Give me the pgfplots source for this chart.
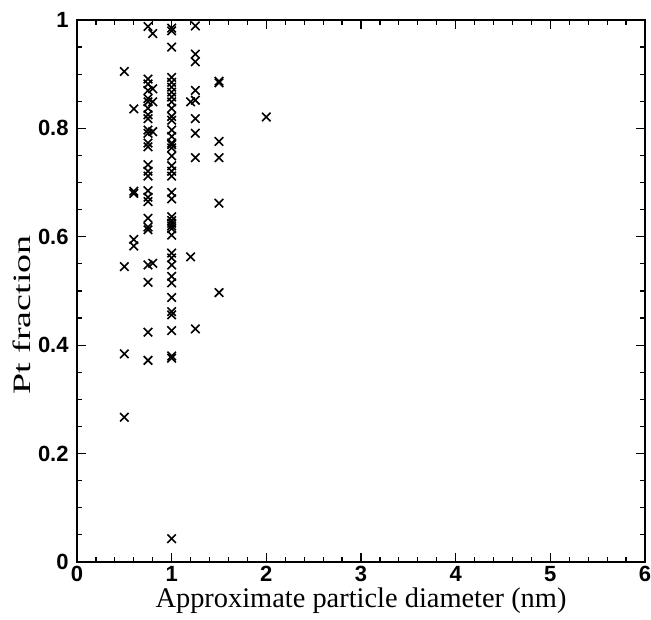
\documentclass[border=0pt]{standalone}
\usepackage{fontspec}
\setmainfont{Liberation Serif}
\newfontfamily\tickfont{Liberation Sans}
\usepackage{pgfplots}
\usepackage{pgfplotstable}
\pgfplotsset{compat=1.18}
\pgfplotstableread{
x y
0.5 0.905
0.5 0.545
0.5 0.384
0.5 0.267
0.6 0.836
0.6 0.684
0.6 0.680
0.6 0.595
0.6 0.583
0.75 0.988
0.75 0.891
0.75 0.882
0.75 0.870
0.75 0.855
0.75 0.849
0.75 0.837
0.75 0.825
0.75 0.818
0.75 0.797
0.75 0.791
0.75 0.773
0.75 0.766
0.75 0.733
0.75 0.721
0.75 0.712
0.75 0.685
0.75 0.673
0.75 0.665
0.75 0.634
0.75 0.618
0.75 0.613
0.75 0.548
0.75 0.516
0.75 0.424
0.75 0.372
0.8 0.975
0.8 0.873
0.8 0.849
0.8 0.794
0.8 0.551
1.0 0.985
1.0 0.980
1.0 0.950
1.0 0.894
1.0 0.885
1.0 0.876
1.0 0.867
1.0 0.858
1.0 0.849
1.0 0.837
1.0 0.822
1.0 0.815
1.0 0.797
1.0 0.785
1.0 0.773
1.0 0.770
1.0 0.764
1.0 0.749
1.0 0.731
1.0 0.721
1.0 0.712
1.0 0.682
1.0 0.670
1.0 0.637
1.0 0.630
1.0 0.625
1.0 0.620
1.0 0.615
1.0 0.603
1.0 0.570
1.0 0.561
1.0 0.548
1.0 0.527
1.0 0.515
1.0 0.488
1.0 0.462
1.0 0.456
1.0 0.427
1.0 0.380
1.0 0.376
1.0 0.043
1.2 0.849
1.2 0.563
1.25 0.989
1.25 0.937
1.25 0.923
1.25 0.870
1.25 0.852
1.25 0.818
1.25 0.791
1.25 0.746
1.25 0.430
1.5 0.887
1.5 0.884
1.5 0.776
1.5 0.746
1.5 0.662
1.5 0.497
2.0 0.821
}\datatable
\begin{document}
\begin{tikzpicture}
\begin{axis}[
  scale only axis, width=284pt, height=271pt,
  xmin=0, xmax=6, ymin=0, ymax=1,
  xtick={0,1,2,3,4,5,6}, ytick={0,0.2,0.4,0.6,0.8,1},
  minor x tick num=4, minor y tick num=3,
  tick align=inside, major tick length=4.5pt, minor tick length=2.5pt,
  tick label style={font=\fontsize{11}{13}\selectfont\tickfont\bfseries},
  xticklabel style={inner sep=1pt, yshift=-1pt},
  yticklabel style={inner sep=1pt, xshift=-3pt},
  /pgf/number format/assume math mode=true,
  xlabel={Approximate particle diameter (nm)},
  ylabel={\scalebox{1.52}[1]{Pt fraction}},
  xlabel style={font=\fontsize{14.2}{16}\selectfont, at={(axis description cs:0.5,-0.072)}, anchor=center},
  ylabel style={font=\fontsize{12.5}{14}\selectfont, at={(axis description cs:-0.097,0.456)}, anchor=center},
  axis line style={line width=0.8pt},
  every tick/.style={black, line width=0.6pt},
  clip=false,
]
\addplot[only marks, mark=x, mark size=3pt, line width=0.8pt, black] table[x=x, y=y] {\datatable};
\coordinate (ll) at (rel axis cs:0,0);
\coordinate (ur) at (rel axis cs:1,1);
\end{axis}
\pgfresetboundingbox
\path[use as bounding box] ([xshift=-38.5pt,yshift=-28.5pt]ll) rectangle ([xshift=3pt,yshift=10pt]ur);
\end{tikzpicture}
\end{document}
